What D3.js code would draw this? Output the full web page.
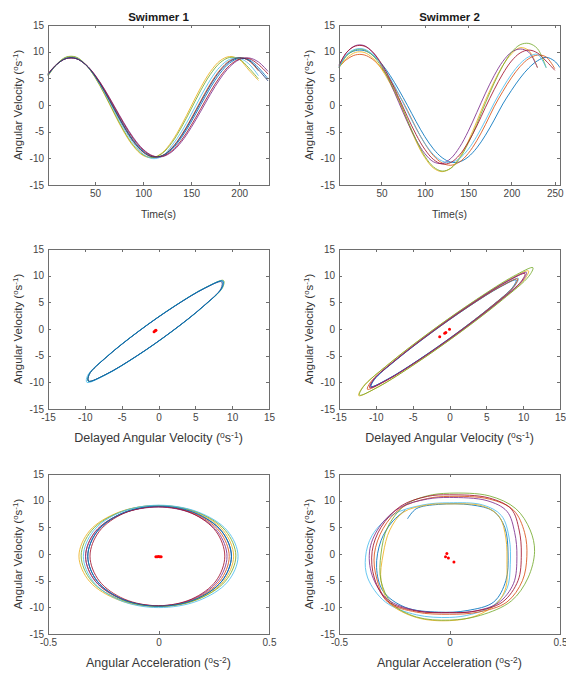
<!DOCTYPE html>
<html>
<head>
<meta charset="utf-8">
<script src="https://cdn.jsdelivr.net/npm/d3@7"></script>
<style>
  body { margin: 0; background: #fff; }
  svg { font-family: "Liberation Sans", Arial, sans-serif; }
  .axis { font-family: "Liberation Sans", Arial, sans-serif; }
  .axis path, .axis line { stroke: #6e6e6e; stroke-width: 1; shape-rendering: crispEdges; }
  .axis text { fill: #454545; font-size: 10px; }
  .lbl { fill: #383838; font-size: 11.5px; }
  .title { fill: #1a1a1a; font-size: 11.5px; font-weight: bold; }
</style>
</head>
<body>
<svg id="chart" width="566" height="675"></svg>
<script>
// colours (MATLAB default order, plus a dark navy for the 8th trace)
const s1Colors = ["#0072BD", "#D95319", "#EDB120", "#7E2F8E", "#77AC30", "#4DBEEE", "#A2142F", "#22397a"];
const s2Colors = ["#0072BD", "#D95319", "#EDB120", "#7E2F8E", "#77AC30", "#4DBEEE", "#A2142F"];

// tick labels
const velTicks = [-15, -10, -5, 0, 5, 10, 15];
const s1TimeTicks = [50, 100, 150, 200];
const s2TimeTicks = [50, 100, 150, 200, 250];
const delayTicks = [-15, -10, -5, 0, 5, 10, 15];
const accTicks = [-0.5, 0, 0.5];

// Swimmer 1 : angular velocity vs time
const s1Time = [1, 10, 20, 30, 40, 50, 60, 70, 80, 90, 100, 110, 120, 130, 140, 150, 160, 170, 180, 190, 200, 210, 220, 230];
const s1Velocity = [
  [5.72, 7.60, 8.73, 8.73, 7.60, 5.47, 2.61, -0.62, -3.83, -6.63, -8.65, -9.67, -9.54, -8.30, -6.08, -3.18, 0.06, 3.23, 5.94, 7.86, 8.75, 8.50, 7.0, 4.9],
  [5.64, 7.57, 8.75, 8.75, 7.57, 5.38, 2.44, -0.87, -4.12, -6.91, -8.87, -9.76, -9.46, -8.01, -5.60, -2.54, 0.80, 3.98, 6.59, 8.30, 8.90, 8.30, 6.40],
  [5.43, 7.61, 8.93, 8.93, 7.61, 5.16, 1.92, -1.65, -5.05, -7.78, -9.47, -9.87, -8.94, -6.79, -3.74, -0.22, 3.29, 6.26, 8.29, 9.09, 8.55, 6.55, 4.6],
  [5.86, 7.64, 8.71, 8.71, 7.64, 5.62, 2.90, -0.21, -3.35, -6.16, -8.29, -9.52, -9.68, -8.77, -6.89, -4.24, -1.18, 1.99, 4.87, 7.13, 8.50, 8.83, 8.07, 6.3],
  [5.48, 7.65, 9.0, 9.0, 7.65, 5.21, 2.04, -1.48, -4.84, -7.59, -9.34, -9.85, -9.06, -7.06, -4.15, -0.74, 2.74, 5.75, 7.91, 8.91, 8.63, 6.94, 4.9],
  [5.57, 7.58, 8.81, 8.81, 7.58, 5.31, 2.27, -1.13, -4.43, -7.20, -9.2, -10.05, -9.6, -7.60, -4.98, -1.77, 1.63, 4.74, 7.16, 8.56, 8.78, 7.72, 5.5],
  [5.81, 7.62, 8.72, 8.72, 7.62, 5.56, 2.79, -0.37, -3.54, -6.35, -8.44, -9.58, -9.63, -8.58, -6.57, -3.82, -0.69, 2.49, 5.30, 7.42, 8.60, 8.70, 7.6, 5.8],
  [5.67, 7.58, 8.75, 8.75, 7.58, 5.41, 2.50, -0.79, -4.02, -6.82, -8.80, -9.73, -9.49, -8.11, -5.76, -2.75, 0.55, 3.73, 6.38, 8.15, 8.85, 8.37, 6.6, 4.5]
];

// Swimmer 2 : angular velocity vs time
const s2Time = [1, 10, 20, 30, 40, 50, 60, 70, 80, 90, 100, 110, 120, 130, 140, 150, 160, 170, 180, 190, 200, 210, 220, 230, 240, 250, 256];
const s2Velocity = [
  [7.2, 9.36, 10.2, 10.2, 9.36, 7.76, 5.53, 2.84, -0.08, -3.12, -5.93, -8.24, -9.88, -10.71, -10.67, -9.75, -8.04, -5.66, -2.83, 0.19, 2.74, 5.05, 6.95, 8.29, 8.94, 8.2, 7.0],
  [7.1, 8.54, 9.39, 9.39, 8.54, 6.91, 4.66, 1.99, -1.03, -4.33, -7.23, -9.49, -10.88, -11.30, -10.69, -9.10, -6.69, -3.68, -0.34, 2.53, 5.10, 7.22, 8.69, 9.36, 9.0, 6.8],
  [7.0, 8.80, 9.86, 9.86, 8.80, 6.77, 4.02, 0.82, -3.06, -6.85, -9.86, -11.83, -12.5, -11.83, -9.86, -6.85, -3.06, 0.89, 4.38, 7.38, 9.59, 10.75, 10.2, 7.0],
  [7.5, 9.87, 11.14, 11.14, 9.87, 7.47, 4.22, 0.47, -3.21, -6.54, -9.11, -10.65, -10.96, -10.02, -7.94, -4.96, -1.40, 2.22, 5.50, 8.17, 9.90, 10.5, 9.9, 7.0],
  [7.0, 9.26, 10.36, 10.36, 9.26, 7.18, 4.34, 1.03, -2.81, -6.55, -9.59, -11.61, -12.39, -11.87, -10.08, -7.22, -3.61, 0.38, 4.08, 7.37, 9.85, 11.30, 11.54, 10.57, 7.0],
  [7.0, 9.50, 10.47, 10.47, 9.50, 7.64, 5.06, 2.02, -1.24, -4.41, -7.18, -9.29, -10.52, -10.77, -10.02, -8.34, -5.86, -2.87, 0.36, 3.22, 5.76, 7.77, 9.05, 9.5, 7.0],
  [7.4, 9.91, 11.05, 11.05, 9.91, 7.75, 4.80, 1.34, -2.21, -5.55, -8.31, -10.21, -11.07, -10.78, -9.38, -7.02, -3.94, -0.44, 2.87, 5.85, 8.24, 9.76, 10.3, 9.76, 8.24, 6.5]
];

// Swimmer 1 : delayed angular velocity vs angular velocity, [delayed, velocity]
const s1DelayColors = ["#77AC30", "#4DBEEE", "#22397a", "#0072BD"];
const s1DelayLoops = [
  [[8.82, 9.1], [6.44, 7.83], [2.26, 4.38], [-2.64, -0.35], [-6.92, -5.08], [-9.43, -8.53], [-9.52, -9.8], [-7.14, -8.53], [-2.96, -5.08], [1.94, -0.35], [6.22, 4.38], [8.73, 7.83]],
  [[8.72, 9.0], [6.33, 7.73], [2.12, 4.25], [-2.80, -0.5], [-7.10, -5.25], [-9.63, -8.73], [-9.72, -10.0], [-7.33, -8.73], [-3.12, -5.25], [1.80, -0.5], [6.10, 4.25], [8.63, 7.73]],
  [[8.57, 8.85], [6.24, 7.6], [2.12, 4.2], [-2.70, -0.45], [-6.91, -5.1], [-9.39, -8.5], [-9.47, -9.75], [-7.14, -8.5], [-3.02, -5.1], [1.80, -0.45], [6.01, 4.2], [8.49, 7.6]],
  [[8.72, 9.0], [6.36, 7.74], [2.19, 4.3], [-2.67, -0.4], [-6.93, -5.1], [-9.43, -8.54], [-9.52, -9.8], [-7.16, -8.54], [-2.99, -5.1], [1.87, -0.4], [6.13, 4.3], [8.63, 7.74]]
];
const s1DelayCentre = [[-0.6, -0.5], [-0.45, -0.35], [-0.35, -0.25]];

// Swimmer 2 : delayed angular velocity vs angular velocity
const s2DelayColors = ["#4DBEEE", "#0072BD", "#EDB120", "#77AC30", "#D95319", "#A2142F", "#7E2F8E"];
const s2DelayLoops = [
  [[9.35, 9.5], [7.12, 8.14], [2.82, 4.43], [-2.42, -0.65], [-7.18, -5.73], [-10.19, -9.44], [-10.65, -10.8], [-8.43, -9.44], [-4.12, -5.73], [1.12, -0.65], [5.88, 4.43], [8.89, 8.14]],
  [[9.05, 9.2], [6.86, 7.86], [2.62, 4.2], [-2.54, -0.8], [-7.23, -5.8], [-10.2, -9.46], [-10.65, -10.8], [-8.46, -9.46], [-4.22, -5.8], [0.94, -0.8], [5.63, 4.2], [8.6, 7.86]],
  [[10.72, 10.9], [8.16, 9.33], [3.20, 5.05], [-2.84, -0.8], [-8.32, -6.65], [-11.80, -10.93], [-12.32, -12.5], [-9.76, -10.93], [-4.80, -6.65], [1.24, -0.8], [6.72, 5.05], [10.20, 9.33]],
  [[11.32, 11.5], [8.70, 9.90], [3.64, 5.53], [-2.53, -0.45], [-8.13, -6.43], [-11.68, -10.80], [-12.22, -12.4], [-9.60, -10.80], [-4.54, -6.43], [1.63, -0.45], [7.23, 5.53], [10.78, 9.90]],
  [[9.24, 9.4], [6.98, 8.01], [2.59, 4.23], [-2.75, -0.95], [-7.6, -6.13], [-10.68, -9.91], [-11.14, -11.3], [-8.88, -9.91], [-4.49, -6.13], [0.85, -0.95], [5.70, 4.23], [8.78, 8.01]],
  [[10.24, 10.4], [7.90, 8.97], [3.36, 5.05], [-2.16, -0.3], [-7.18, -5.65], [-10.36, -9.57], [-10.84, -11.0], [-8.50, -9.57], [-3.96, -5.65], [1.56, -0.3], [6.58, 5.05], [9.76, 8.97]],
  [[10.44, 10.6], [8.08, 9.16], [3.53, 5.23], [-2.02, -0.15], [-7.06, -5.53], [-10.26, -9.46], [-10.74, -10.9], [-8.38, -9.46], [-3.83, -5.53], [1.72, -0.15], [6.76, 5.23], [9.96, 9.16]]
];
const s2DelayCentre = [[-1.33, -1.45], [-0.65, -0.8], [-0.5, -0.65], [0.0, -0.05]];

// Swimmer 1 : angular acceleration vs angular velocity, [acceleration, velocity]
const s1AccColors = ["#22397a", "#D95319", "#EDB120", "#7E2F8E", "#77AC30", "#A2142F", "#0072BD", "#4DBEEE"];
const s1AccLoops = [
  [[0, 8.9], [-0.16, 7.65], [-0.277, 4.23], [-0.32, -0.45], [-0.277, -5.13], [-0.16, -8.55], [0, -9.8], [0.165, -8.55], [0.286, -5.13], [0.33, -0.45], [0.286, 4.23], [0.165, 7.65]],
  [[0, 8.85], [-0.165, 7.6], [-0.286, 4.2], [-0.33, -0.45], [-0.286, -5.1], [-0.165, -8.5], [0, -9.75], [0.16, -8.5], [0.277, -5.1], [0.32, -0.45], [0.277, 4.2], [0.16, 7.6]],
  [[0, 9.1], [-0.18, 7.83], [-0.312, 4.35], [-0.36, -0.4], [-0.312, -5.15], [-0.18, -8.63], [0, -9.9], [0.17, -8.63], [0.294, -5.15], [0.34, -0.4], [0.294, 4.35], [0.17, 7.83]],
  [[0, 8.8], [-0.165, 7.56], [-0.286, 4.18], [-0.33, -0.45], [-0.286, -5.08], [-0.165, -8.46], [0, -9.7], [0.155, -8.46], [0.268, -5.08], [0.31, -0.45], [0.268, 4.18], [0.155, 7.56]],
  [[0, 9.1], [-0.175, 7.83], [-0.303, 4.38], [-0.35, -0.35], [-0.303, -5.08], [-0.175, -8.53], [0, -9.8], [0.175, -8.53], [0.303, -5.08], [0.35, -0.35], [0.303, 4.38], [0.175, 7.83]],
  [[0, 8.9], [-0.155, 7.65], [-0.268, 4.25], [-0.31, -0.4], [-0.268, -5.05], [-0.155, -8.45], [0, -9.7], [0.15, -8.45], [0.26, -5.05], [0.30, -0.4], [0.26, 4.25], [0.15, 7.65]],
  [[0, 9.0], [-0.16, 7.74], [-0.277, 4.3], [-0.32, -0.4], [-0.277, -5.1], [-0.16, -8.54], [0, -9.8], [0.165, -8.54], [0.286, -5.1], [0.33, -0.4], [0.286, 4.3], [0.165, 7.74]],
  [[0, 9.15], [-0.17, 7.86], [-0.294, 4.35], [-0.34, -0.45], [-0.294, -5.25], [-0.17, -8.76], [0, -10.05], [0.18, -8.76], [0.312, -5.25], [0.36, -0.45], [0.312, 4.35], [0.18, 7.86]]
];
const s1AccCentre = [[-0.012, -0.5], [-0.006, -0.5], [0, -0.45], [0.006, -0.5], [0.012, -0.5]];

// Swimmer 2 : angular acceleration vs angular velocity
const s2AccColors = ["#4DBEEE", "#0072BD", "#EDB120", "#77AC30", "#D95319", "#7E2F8E", "#A2142F"];
const s2AccClosed = [true, false, true, true, true, true, true];
const s2AccLoops = [
  [[0.0, 9.6], [0.15, 9.2], [0.235, 7.2], [0.27, 3.0], [0.275, -2.0], [0.26, -6.5], [0.2, -9.6], [0.1, -11.3], [0.0, -11.9], [-0.15, -11.4], [-0.29, -9.0], [-0.37, -4.5], [-0.38, -0.6], [-0.35, 3.5], [-0.26, 7.3], [-0.12, 9.2]],
  [[-0.19, 6.6], [-0.15, 8.5], [-0.05, 9.3], [0.1, 9.2], [0.2, 8.0], [0.25, 5.0], [0.265, 0.0], [0.255, -5.0], [0.2, -9.0], [0.08, -10.6], [-0.05, -10.9], [-0.2, -10.0], [-0.3, -7.0], [-0.33, -2.5], [-0.31, 2.5], [-0.26, 6.0], [-0.2, 8.2]],
  [[0.0, 9.4], [0.15, 9.0], [0.225, 7.0], [0.255, 3.0], [0.26, -2.0], [0.255, -6.3], [0.215, -9.2], [0.12, -11.6], [0.0, -12.5], [-0.15, -11.9], [-0.27, -9.2], [-0.31, -5.0], [-0.30, 0.0], [-0.27, 4.5], [-0.21, 7.8], [-0.1, 9.2]],
  [[0.0, 11.4], [0.18, 10.9], [0.30, 8.5], [0.365, 4.5], [0.385, 0.5], [0.355, -4.5], [0.28, -8.8], [0.14, -11.5], [0.0, -12.4], [-0.15, -11.8], [-0.26, -9.3], [-0.31, -5.0], [-0.31, 0.0], [-0.28, 5.0], [-0.2, 9.2], [-0.1, 10.9]],
  [[0.0, 10.8], [0.18, 10.3], [0.29, 8.2], [0.34, 4.0], [0.35, -0.5], [0.33, -5.0], [0.26, -9.0], [0.13, -10.9], [0.0, -11.3], [-0.15, -10.9], [-0.28, -9.0], [-0.33, -4.5], [-0.34, 0.0], [-0.3, 4.8], [-0.22, 8.6], [-0.1, 10.4]],
  [[0.0, 10.6], [0.17, 10.0], [0.26, 8.0], [0.295, 4.0], [0.305, -0.5], [0.29, -5.5], [0.22, -9.2], [0.1, -10.8], [0.0, -11.0], [-0.15, -10.6], [-0.28, -8.5], [-0.35, -4.0], [-0.36, 1.0], [-0.31, 5.5], [-0.22, 8.8], [-0.1, 10.3]],
  [[0.0, 11.1], [0.18, 10.5], [0.28, 8.4], [0.315, 4.5], [0.325, 0.0], [0.31, -5.0], [0.24, -9.0], [0.12, -10.7], [0.0, -11.0], [-0.15, -10.7], [-0.28, -8.8], [-0.34, -4.5], [-0.35, 0.5], [-0.31, 5.0], [-0.22, 9.0], [-0.1, 10.8]]
];
const s2AccCentre = [[-0.012, 0.1], [-0.018, -0.5], [-0.005, -0.75], [0.02, -1.5]];

// layout
const W = 221, H = 160;
const colLeft = [48, 339];
const rowTop = [25, 249, 474];

const svg = d3.select("#chart");
const fmt = d => String(d);

function makePanel(col, row, xDomain) {
  const left = colLeft[col], top = rowTop[row];
  const g = svg.append("g").attr("transform", `translate(${left},${top})`);
  const x = d3.scaleLinear().domain(xDomain).range([0, W]);
  const y = d3.scaleLinear().domain([-15, 15]).range([H, 0]);
  return { g, x, y };
}

function drawFrame(p, xTicks) {
  p.g.append("g").attr("class", "axis").attr("transform", `translate(0,${H})`)
    .call(d3.axisBottom(p.x).tickValues(xTicks).tickSize(-3).tickSizeOuter(0).tickPadding(5).tickFormat(fmt));
  p.g.append("g").attr("class", "axis")
    .call(d3.axisTop(p.x).tickValues(xTicks).tickSize(-3).tickSizeOuter(0).tickFormat(""));
  p.g.append("g").attr("class", "axis")
    .call(d3.axisLeft(p.y).tickValues(velTicks).tickSize(-3).tickSizeOuter(0).tickPadding(4).tickFormat(fmt));
  p.g.append("g").attr("class", "axis").attr("transform", `translate(${W},0)`)
    .call(d3.axisRight(p.y).tickValues(velTicks).tickSize(-3).tickSizeOuter(0).tickFormat(""));
}

// "prefix (°s^exp)" with raised bits
function unitText(t, prefix, exp, sup) {
  t.append("tspan").text(prefix + " (");
  t.append("tspan").attr("font-size", sup).attr("dy", -4).text("o");
  t.append("tspan").attr("dy", 4).text("s");
  t.append("tspan").attr("font-size", sup).attr("dy", -4).text(exp);
  t.append("tspan").attr("dy", 4).text(")");
}

function yLabel(p) {
  const t = p.g.append("text").attr("class", "lbl")
    .attr("text-anchor", "middle")
    .attr("transform", `translate(-26,${H / 2}) rotate(-90)`);
  unitText(t, "Angular Velocity", "-1", 8);
}

function xLabel(p, prefix, exp) {
  const t = p.g.append("text").attr("class", "lbl")
    .attr("text-anchor", "middle")
    .attr("x", W / 2).attr("y", H + 33);
  if (exp) {
    t.style("font-size", "12.5px");
    unitText(t, prefix, exp, 8.5);
  } else {
    t.style("font-size", "10.5px").text(prefix);
  }
}

function title(p, txt) {
  p.g.append("text").attr("class", "title").attr("text-anchor", "middle")
    .attr("x", W / 2).attr("y", -4).text(txt);
}

function drawSeries(p, time, series, colors) {
  const line = d3.line().x((v, i) => p.x(time[i])).y(v => p.y(v)).curve(d3.curveCatmullRom);
  series.forEach((vals, k) => {
    p.g.append("path").attr("d", line(vals)).attr("fill", "none")
      .attr("stroke", colors[k]).attr("stroke-width", 1).attr("stroke-opacity", 0.85);
  });
}

function drawLoops(p, loops, colors, closed) {
  loops.forEach((pts, k) => {
    const isClosed = closed ? closed[k] : true;
    const line = d3.line().x(d => p.x(d[0])).y(d => p.y(d[1]))
      .curve(isClosed ? d3.curveCatmullRomClosed : d3.curveCatmullRom);
    p.g.append("path").attr("d", line(pts)).attr("fill", "none")
      .attr("stroke", colors[k]).attr("stroke-width", 1).attr("stroke-opacity", 0.85);
  });
}

function drawCentre(p, pts) {
  p.g.selectAll(null).data(pts).enter().append("circle")
    .attr("cx", d => p.x(d[0])).attr("cy", d => p.y(d[1]))
    .attr("r", 1.5).attr("fill", "#ff0000");
}

// row 1
const p1 = makePanel(0, 0, [1, 231]);
drawSeries(p1, s1Time, s1Velocity, s1Colors);
drawFrame(p1, s1TimeTicks);
title(p1, "Swimmer 1");
yLabel(p1);
xLabel(p1, "Time(s)");

const p2 = makePanel(1, 0, [1, 256]);
drawSeries(p2, s2Time, s2Velocity, s2Colors);
drawFrame(p2, s2TimeTicks);
title(p2, "Swimmer 2");
yLabel(p2);
xLabel(p2, "Time(s)");

// row 2
const p3 = makePanel(0, 1, [-15, 15]);
drawLoops(p3, s1DelayLoops, s1DelayColors);
drawCentre(p3, s1DelayCentre);
drawFrame(p3, delayTicks);
yLabel(p3);
xLabel(p3, "Delayed Angular Velocity", "-1");

const p4 = makePanel(1, 1, [-15, 15]);
drawLoops(p4, s2DelayLoops, s2DelayColors);
drawCentre(p4, s2DelayCentre);
drawFrame(p4, delayTicks);
yLabel(p4);
xLabel(p4, "Delayed Angular Velocity", "-1");

// row 3
const p5 = makePanel(0, 2, [-0.5, 0.5]);
drawLoops(p5, s1AccLoops, s1AccColors);
drawCentre(p5, s1AccCentre);
drawFrame(p5, accTicks);
yLabel(p5);
xLabel(p5, "Angular Acceleration", "-2");

const p6 = makePanel(1, 2, [-0.5, 0.5]);
drawLoops(p6, s2AccLoops, s2AccColors, s2AccClosed);
drawCentre(p6, s2AccCentre);
drawFrame(p6, accTicks);
yLabel(p6);
xLabel(p6, "Angular Acceleration", "-2");
</script>
</body>
</html>
